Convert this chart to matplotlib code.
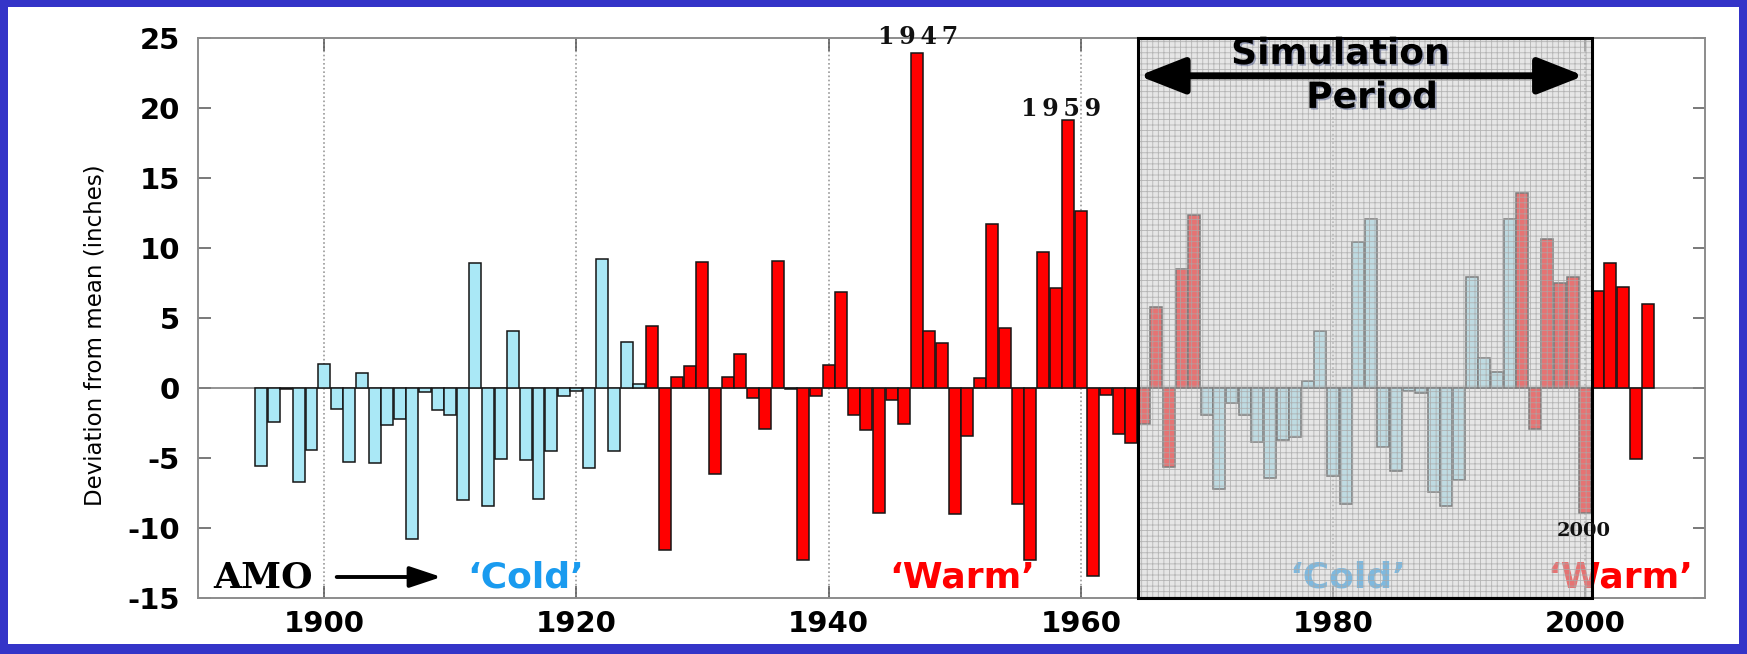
import matplotlib
matplotlib.use("Agg")
import matplotlib.pyplot as plt
from matplotlib.patches import Rectangle, FancyArrowPatch
import matplotlib.patheffects as pe
import numpy as np

# ---------------- data ----------------
years = list(range(1895, 2006))
deviation = [
    -5.56, -2.46, -0.05, -6.7, -4.4,            # 1895-1899
    1.75, -1.47, -5.28, 1.07, -5.34,            # 1900-1904
    -2.66, -2.18, -10.8, -0.28, -1.6,           # 1905-1909
    -1.9, -7.97, 8.9, -8.45, -5.06,             # 1910-1914
    4.04, -5.14, -7.9, -4.5, -0.54,             # 1915-1919
    -0.2, -5.7, 9.2, -4.5, 3.28,                # 1920-1924
    0.3, 4.46, -11.55, 0.8, 1.55,               # 1925-1929
    9.0, -6.13, 0.8, 2.4, -0.7,                 # 1930-1934
    -2.9, 9.1, -0.05, -12.3, -0.54,             # 1935-1939
    1.64, 6.86, -1.9, -3.0, -8.9,               # 1940-1944
    -0.85, -2.6, 23.9, 4.04, 3.2,               # 1945-1949
    -9.0, -3.4, 0.7, 11.7, 4.27,                # 1950-1954
    -8.25, -12.26, 9.75, 7.15, 19.15,           # 1955-1959
    12.66, -13.4, -0.48, -3.25, -3.95,          # 1960-1964
    -2.6, 5.8, -5.62, 8.5, 12.37,               # 1965-1969
    -1.9, -7.2, -1.1, -1.9, -3.85,              # 1970-1974
    -6.45, -3.73, -3.53, 0.5, 4.04,             # 1975-1979
    -6.27, -8.25, 10.45, 12.1, -4.2,            # 1980-1984
    -5.93, -0.2, -0.35, -7.4, -8.4,             # 1985-1989
    -6.55, 7.93, 2.15, 1.16, 12.1,              # 1990-1994
    13.92, -2.9, 10.65, 7.5, 7.92,              # 1995-1999
    -8.9, 6.94, 8.93, 7.23, -5.06,              # 2000-2004
    5.98,                                       # 2005
]
# AMO phases (start year, end year, phase)
amo_phases = [(1895, 1925, "cold"), (1926, 1969, "warm"),
              (1970, 1994, "cold"), (1995, 2005, "warm")]
sim_start, sim_end = 1964.5, 2000.5
highlight_years = [1947, 1959, 2000]
xticks = [1900, 1920, 1940, 1960, 1980, 2000]
yticks = [-15, -10, -5, 0, 5, 10, 15, 20, 25]

COLD = "#aae8f6"
WARM = "#ff0000"
phase_color = {"cold": COLD, "warm": WARM}
colors = []
for y in years:
    for a, b, p in amo_phases:
        if a <= y <= b:
            colors.append(phase_color[p])
            break

# ---------------- figure ----------------
W, H = 1747, 654
fig = plt.figure(figsize=(W / 100, H / 100), dpi=100, facecolor="#3434c8")
fig.patches.append(Rectangle((8 / W, 10 / H), 1 - 16 / W, 1 - 17 / H,
                             transform=fig.transFigure, facecolor="white",
                             edgecolor="none", zorder=-10))

X0, X1 = 1890, 2009.5
ax = fig.add_axes([198 / W, 1 - 598 / H, (1705 - 198) / W, (598 - 38) / H])
ax.set_zorder(1)
ax.set_facecolor("none")
ax.set_xlim(X0, X1)
ax.set_ylim(-15, 25)

ax.set_axisbelow(True)
ax.grid(axis="x", linestyle=(0, (1, 1.5)), color="#9a9a9a", linewidth=1.2)
ax.axhline(0, color="#808080", linewidth=1.2, zorder=1.5)

ax.bar(years, deviation, width=0.95, color=colors, edgecolor="#151515",
       linewidth=1.1, zorder=2)

tick_font = dict(family="DejaVu Sans", weight="bold", size=21)
ax.set_xticks(xticks)
ax.set_yticks(yticks)
ax.set_xticklabels([str(t) for t in xticks], **tick_font)
ax.set_yticklabels([str(t) for t in yticks], **tick_font)
ax.tick_params(direction="in", length=9, width=1.1, color="#555555",
               top=True, right=True)
ax.tick_params(axis="y", pad=13)
ax.tick_params(axis="x", pad=9)
for s in ax.spines.values():
    s.set_color("#8c8c8c")
    s.set_linewidth(1.4)

ax.set_ylabel("Deviation from mean (inches)",
              family=["Liberation Sans Narrow", "DejaVu Sans"],
              size=16.5)
ax.yaxis.set_label_coords(-0.061, 0.47)

# phase labels (under the simulation overlay)
lab_kw = dict(ha="center", va="center", weight="bold", size=26,
              family="DejaVu Sans", zorder=3)
ax.text(1891.2, -13.5, "AMO", ha="left", va="center", weight="bold",
        size=26, family="DejaVu Serif", color="black", zorder=3)
ax.annotate("", xy=(1909.3, -13.5), xytext=(1901.0, -13.5),
            arrowprops=dict(arrowstyle="-|>,head_length=1.2,head_width=0.4",
                            lw=2.8, color="black", mutation_scale=16,
                            shrinkA=0, shrinkB=0),
            zorder=3)
ax.text(1916.0, -13.5, "\u2018Cold\u2019", color="#1a9bef", **lab_kw)
ax.text(1950.6, -13.5, "\u2018Warm\u2019", color="#ff0000", **lab_kw)
ax.text(1981.2, -13.5, "\u2018Cold\u2019", color="#1a9bef", **lab_kw)
ax.text(2002.8, -13.5, "\u2018Warm\u2019", color="#ff0000", **lab_kw)

# simulation period overlay
ax.add_patch(Rectangle((sim_start, -15), sim_end - sim_start, 40,
                       facecolor="#d2d2d2", alpha=0.55, edgecolor="none",
                       zorder=4))
plt.rcParams["hatch.linewidth"] = 0.6
ax.add_patch(Rectangle((sim_start, -15), sim_end - sim_start, 40,
                       fill=False, hatch="+++", edgecolor="#a8a8a8",
                       linewidth=0, alpha=0.8, zorder=4.1))
ax.add_patch(Rectangle((sim_start, -15), sim_end - sim_start, 40,
                       fill=False, edgecolor="black", linewidth=2.2,
                       zorder=5, clip_on=False))

ax.add_patch(FancyArrowPatch((sim_start + 0.1, 22.3), (sim_end - 0.6, 22.3),
                             arrowstyle="<|-|>,head_length=1.4,head_width=0.55",
                             mutation_scale=20, lw=5, color="black",
                             shrinkA=0, shrinkB=0, zorder=6))
shadow = [pe.SimplePatchShadow(offset=(1.2, -1.2), shadow_rgbFace="#1c2c70",
                               alpha=0.35), pe.Normal()]
ax.text(1980.6, 23.85, "Simulation", ha="center", va="center", weight="bold",
        size=26, family="DejaVu Sans", color="black", zorder=6,
        path_effects=shadow)
ax.text(1983.1, 20.72, "Period", ha="center", va="center", weight="bold",
        size=26, family="DejaVu Sans", color="black", zorder=6,
        path_effects=shadow)

# highlighted years
hl_pos = {1947: (1947.1, 25.1), 1959: (1958.4, 19.9), 2000: (1999.9, -10.2)}
hl_size = {1947: 17, 1959: 17, 2000: 14}
for yr in highlight_years:
    x, y = hl_pos[yr]
    label = "\u2009".join(str(yr)) if yr != 2000 else str(yr)
    ax.text(x, y, label, ha="center", va="center",
            weight="bold", size=hl_size[yr], family="DejaVu Serif",
            color="#111111", zorder=7, clip_on=False)

fig.savefig("out.png", dpi=100, facecolor=fig.get_facecolor())
